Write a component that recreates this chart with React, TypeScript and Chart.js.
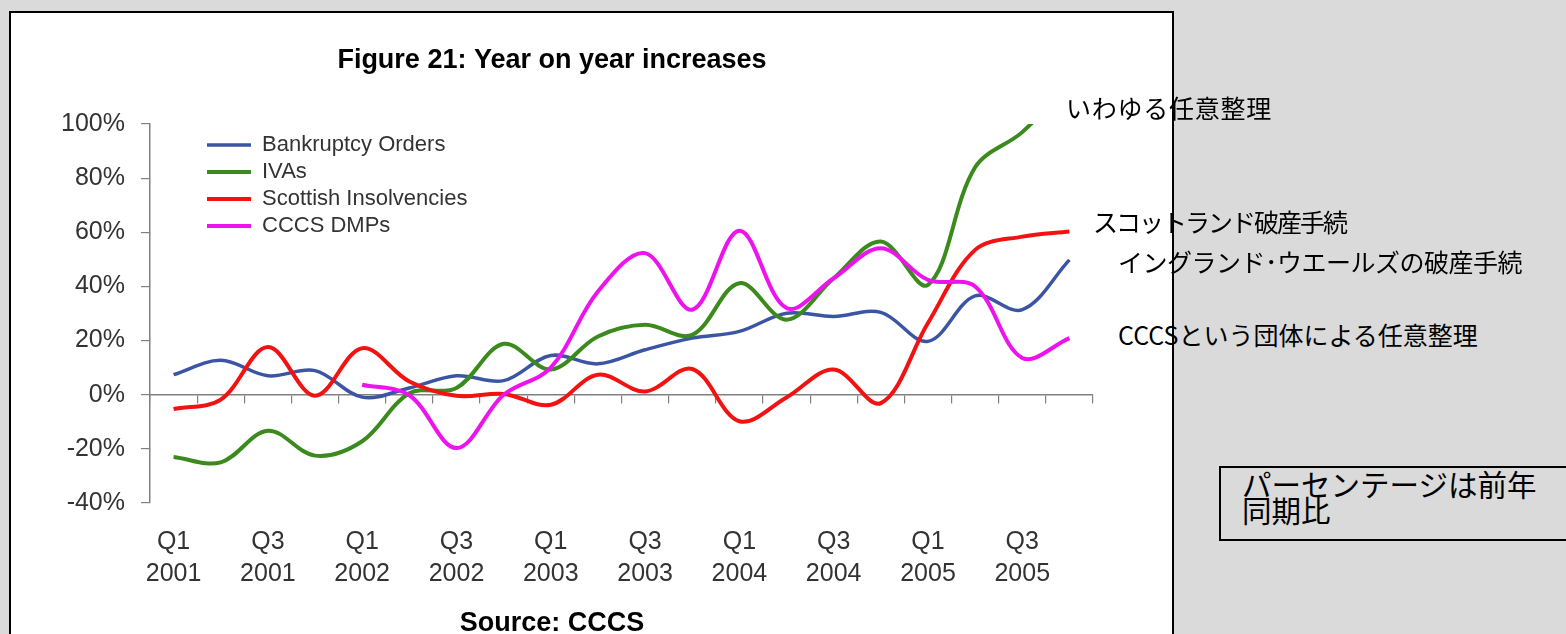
import React, { useEffect, useRef } from 'react';
import { Chart, registerables } from 'chart.js';

Chart.register(...registerables);

// ---- data ----
const categories = [
  'Q1 2001', 'Q2 2001', 'Q3 2001', 'Q4 2001',
  'Q1 2002', 'Q2 2002', 'Q3 2002', 'Q4 2002',
  'Q1 2003', 'Q2 2003', 'Q3 2003', 'Q4 2003',
  'Q1 2004', 'Q2 2004', 'Q3 2004', 'Q4 2004',
  'Q1 2005', 'Q2 2005', 'Q3 2005', 'Q4 2005',
];

const bankruptcyOrders = [7.4, 12.7, 7, 8.9, -0.9, 2.5, 7, 5.2, 14.5, 11.4, 16.6, 20.9, 23.4, 30.1, 28.9, 30.4, 19.7, 36.5, 31.4, 49.8];
const ivas = [-23, -25, -13.3, -22.5, -17.2, 0.5, 2.5, 18.8, 9.3, 21.5, 25.8, 22.1, 41.2, 27.7, 43, 56.6, 40.6, 84, 97, 115];
const scottishInsolvencies = [-5.3, -1.8, 17.6, -0.4, 17.2, 4.9, -0.4, 0.3, -3.7, 7.4, 1.2, 9.5, -9.8, -1, 9.3, -3.1, 26.5, 53.5, 58.4, 60.3];
const ccccsDmps: (number | null)[] = [null, null, null, null, 3.7, -0.2, -19.7, 0, 10, 38.1, 52.3, 31.4, 60.6, 32, 43, 54.1, 42.4, 40, 13.6, 20.9];

const seriesNames = ['Bankruptcy Orders', 'IVAs', 'Scottish Insolvencies', 'CCCS DMPs'];
const yMin = -40;
const yMax = 100;
const yStep = 20;

const titleText = 'Figure 21: Year on year increases';
const sourceText = 'Source: CCCS';

const LATIN = '"Liberation Sans", Arial, sans-serif';
const CJK = '"Noto Sans CJK JP", sans-serif';

export default function App() {
  const canvasRef = useRef<HTMLCanvasElement>(null);

  useEffect(() => {
    const canvas = canvasRef.current;
    if (!canvas) return;

    const legendShift = {
      id: 'legendShift',
      afterLayout(chart: any) {
        const lg = chart.legend;
        if (!lg) return;
        const w = lg.width;
        const h = lg.height;
        lg.left = 191;
        lg.right = 191 + w;
        lg.top = 116;
        lg.bottom = 116 + h;
      },
    };

    const mk = (label: string, data: (number | null)[], color: string, width: number, order: number) => ({
      label,
      data,
      borderColor: color,
      backgroundColor: color,
      borderWidth: width,
      pointRadius: 0,
      pointHoverRadius: 0,
      pointBorderWidth: width,
      pointBorderColor: color,
      pointBackgroundColor: color,
      tension: 0.35,
      fill: false,
      order,
    });

    const chart = new Chart(canvas, {
      type: 'line',
      data: {
        labels: categories,
        datasets: [
          mk(seriesNames[0], bankruptcyOrders, '#3b55a4', 3.5, 4),
          mk(seriesNames[1], ivas, '#3b8a1d', 4, 3),
          mk(seriesNames[2], scottishInsolvencies, '#f21212', 4, 2),
          mk(seriesNames[3], ccccsDmps, '#ee12ee', 4, 1),
        ],
      },
      options: {
        responsive: false,
        maintainAspectRatio: false,
        animation: false,
        events: [],
        layout: { padding: { left: 0, right: 20, top: 0, bottom: 0 } },
        plugins: {
          tooltip: { enabled: false },
          title: {
            display: true,
            text: titleText,
            color: '#000',
            font: { family: LATIN, size: 27, weight: 'bold', lineHeight: 1.2 },
            padding: { top: 31.5, bottom: 47.1 },
          },
          subtitle: {
            display: true,
            position: 'bottom',
            text: sourceText,
            color: '#000',
            font: { family: LATIN, size: 27, weight: 'bold', lineHeight: 1.2 },
            padding: { top: 19.5, bottom: 0.1 },
          },
          legend: {
            display: true,
            position: 'chartArea',
            align: 'start',
            labels: {
              usePointStyle: true,
              pointStyle: 'line',
              pointStyleWidth: 44,
              color: '#333',
              padding: 5,
              font: { family: LATIN, size: 22 },
              sort: (a: any, b: any) => a.datasetIndex - b.datasetIndex,
            },
          },
        },
        scales: {
          x: {
            type: 'category',
            position: 'bottom',
            offset: true,
            grid: { display: false, drawTicks: false, offset: true },
            border: { display: false },
            ticks: {
              autoSkip: false,
              maxRotation: 0,
              minRotation: 0,
              padding: 23,
              color: '#333',
              font: { family: LATIN, size: 25, lineHeight: 1.28 },
              callback: (_v: any, i: number) => {
                const c = categories[i];
                if (!c) return '';
                return c.startsWith('Q1') || c.startsWith('Q3') ? c.split(' ') : '';
              },
            },
            afterFit: (s: any) => {
              s.height = 85;
            },
          },
          x2: {
            type: 'category',
            labels: categories,
            position: { y: 0 },
            offset: true,
            grid: {
              display: true,
              drawOnChartArea: false,
              drawTicks: true,
              tickLength: 8,
              offset: true,
              color: '#808080',
              lineWidth: 1.2,
            },
            border: { display: true, color: '#808080', width: 1.5 },
            ticks: { display: false },
          },
          y: {
            type: 'linear',
            position: 'left',
            min: yMin,
            max: yMax,
            ticks: {
              stepSize: yStep,
              padding: 16,
              color: '#333',
              font: { family: LATIN, size: 25 },
              callback: (v: any) => `${v}%`,
            },
            grid: {
              drawOnChartArea: false,
              drawTicks: true,
              tickLength: 9,
              color: '#808080',
              lineWidth: 1.2,
            },
            border: { display: true, color: '#808080', width: 1.5 },
            afterFit: (s: any) => {
              s.width = 139;
            },
          },
        },
      } as any,
      plugins: [legendShift],
    });

    return () => chart.destroy();
  }, []);

  const note = (text: string, left: number, top: number, ls: number) => (
    <div
      style={{
        position: 'absolute',
        left,
        top,
        fontFamily: CJK,
        fontSize: 25,
        lineHeight: '25px',
        letterSpacing: ls,
        color: '#000',
        whiteSpace: 'nowrap',
      }}
    >
      {text}
    </div>
  );

  return (
    <div
      style={{
        position: 'absolute',
        left: 0,
        top: 0,
        width: 1566,
        height: 634,
        overflow: 'hidden',
        background: '#dadada',
      }}
    >
      <div
        style={{
          position: 'absolute',
          left: 9,
          top: 11,
          width: 1161,
          height: 700,
          border: '2px solid #000',
          background: '#fff',
        }}
      />
      <canvas
        ref={canvasRef}
        width={1102}
        height={627}
        style={{ position: 'absolute', left: 11, top: 13, width: 1102, height: 627 }}
      />
      {note('いわゆる任意整理', 1066, 94.5, 0.75)}
      {note('スコットランド破産手続', 1093, 209, -2)}
      {note('イングランド･ウエールズの破産手続', 1118, 249, -0.5)}
      {note('CCCSという団体による任意整理', 1118, 322, 0)}
      <div
        style={{
          position: 'absolute',
          left: 1219,
          top: 466,
          width: 400,
          height: 71,
          border: '2px solid #000',
        }}
      />
      <div
        style={{
          position: 'absolute',
          left: 1242,
          top: 470,
          fontFamily: CJK,
          fontSize: 29.5,
          lineHeight: '26px',
          color: '#000',
          whiteSpace: 'nowrap',
        }}
      >
        パーセンテージは前年
        <br />
        同期比
      </div>
    </div>
  );
}
